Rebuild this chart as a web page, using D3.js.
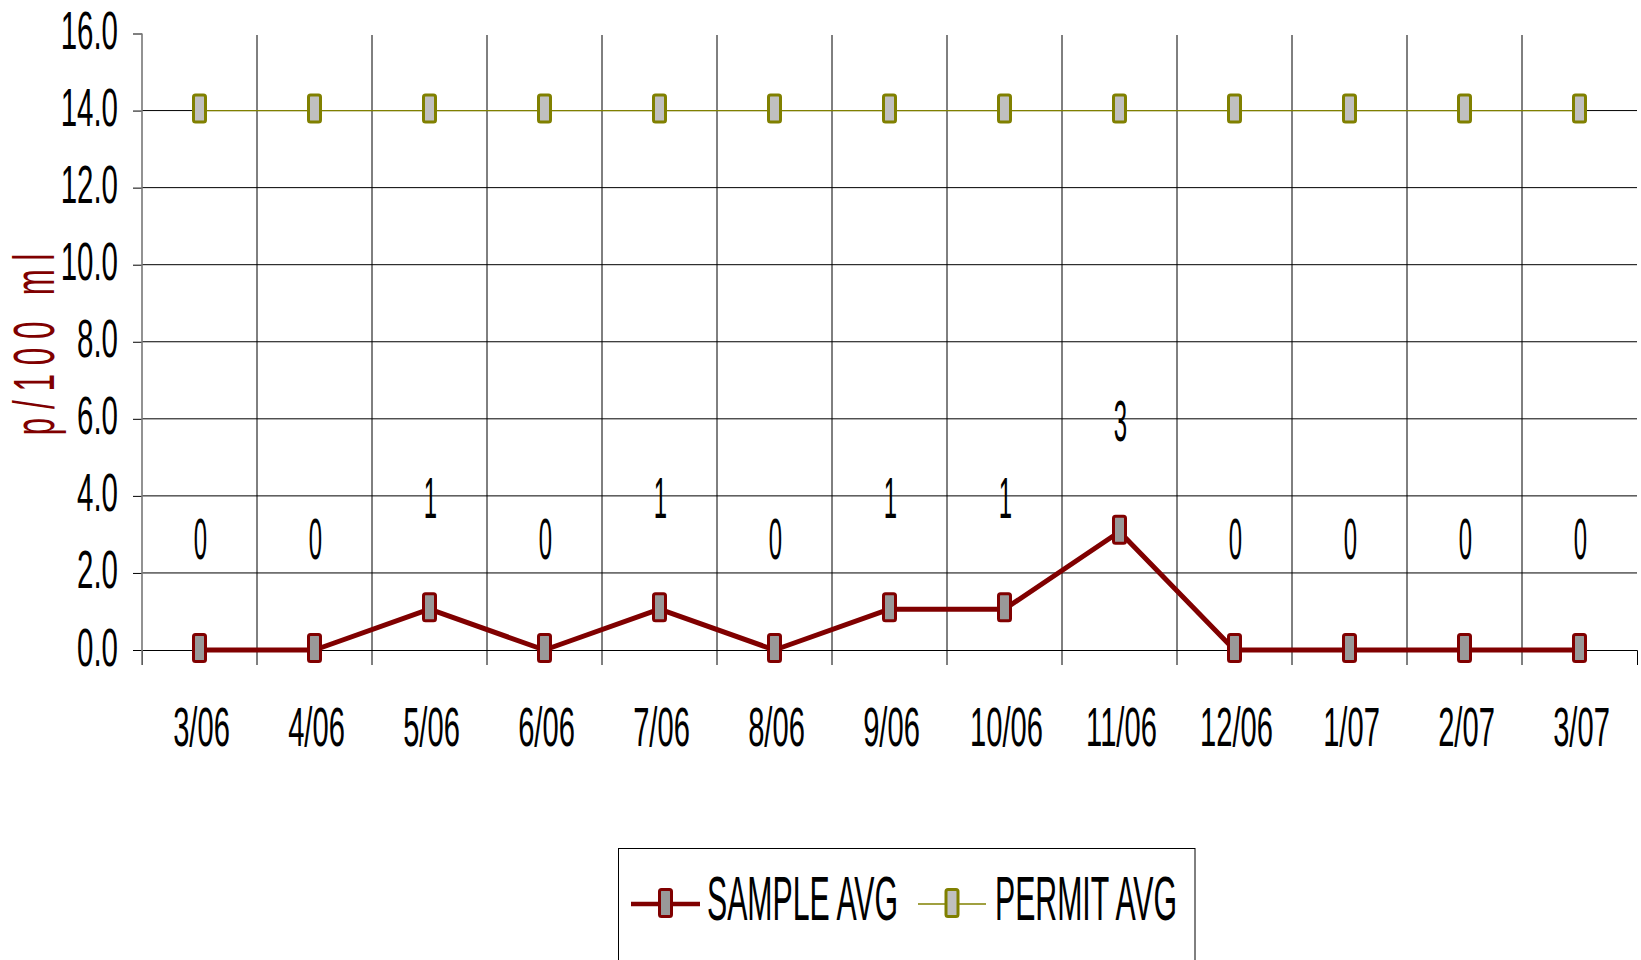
<!DOCTYPE html>
<html>
<head>
<meta charset="utf-8">
<script src="https://cdn.jsdelivr.net/npm/d3@7"></script>
<style>
  body { margin: 0; background: #fff; }
  svg { display: block; }
  text { font-family: "Liberation Sans", Arial, sans-serif; }
</style>
</head>
<body>
<svg id="chart" width="1641" height="960"></svg>
<script>
// ---- data ----
const months = ["3/06","4/06","5/06","6/06","7/06","8/06","9/06","10/06","11/06","12/06","1/07","2/07","3/07"];
const sampleAvg = [0, 0, 1.06, 0, 1.06, 0, 1.06, 1.06, 3.07, 0, 0, 0, 0];
const permitAvg = [14, 14, 14, 14, 14, 14, 14, 14, 14, 14, 14, 14, 14];
const yTicks = [0, 2, 4, 6, 8, 10, 12, 14, 16];
const seriesNames = ["SAMPLE AVG", "PERMIT AVG"];
const yTitle = "p/100 ml";

// ---- layout ----
const svg = d3.select("#chart");
svg.append("rect").attr("width", 1641).attr("height", 960).attr("fill", "#fff");

const X0 = 142, X1 = 1637, YTOP = 33.5, YBOT = 650;
const x = d3.scaleBand().domain(months).range([X0, X1]).padding(0);
const y = d3.scaleLinear().domain([0, 16]).range([YBOT, YTOP]);
const cx = m => x(m) + x.bandwidth() / 2;

const colSample = "#800000", colPermit = "#808000";

// horizontal gridlines
svg.append("g").selectAll("line")
  .data(yTicks.filter(t => t > 0 && t < 16)).join("line")
  .attr("x1", X0).attr("x2", X1)
  .attr("y1", d => y(d)).attr("y2", d => y(d))
  .attr("stroke", "#000").attr("stroke-width", 1);

// vertical gridlines at category boundaries
svg.append("g").selectAll("line")
  .data(months.slice(1)).join("line")
  .attr("x1", d => x(d)).attr("x2", d => x(d))
  .attr("y1", 35).attr("y2", 665)
  .attr("stroke", "#000").attr("stroke-width", 1);

// x axis
const xAxis = d3.axisBottom(x).tickSize(0).tickSizeOuter(15).tickPadding(0);
const gx = svg.append("g").attr("transform", `translate(0,${YBOT})`).call(xAxis);
gx.select(".domain").attr("stroke", "#000").attr("stroke-width", 1);
gx.selectAll(".tick text")
  .attr("y", null).attr("dy", null)
  .attr("text-anchor", "middle")
  .attr("font-size", 55)
  .attr("fill", "#000")
  .attr("transform", "translate(2,96) scale(0.53,1)");

// y axis
const yAxis = d3.axisLeft(y).tickValues(yTicks).tickSize(9).tickSizeOuter(0)
  .tickFormat(d3.format(".1f"));
const gy = svg.append("g").attr("transform", `translate(${X0},0)`).call(yAxis);
gy.select(".domain").remove();
gy.selectAll(".tick line").attr("stroke", "#000");
gy.selectAll(".tick text")
  .attr("x", null).attr("dy", null)
  .attr("text-anchor", "end")
  .attr("font-size", 53)
  .attr("fill", "#000")
  .attr("transform", "translate(-24,15) scale(0.556,1)");
svg.append("line")
  .attr("x1", X0).attr("x2", X0).attr("y1", YTOP).attr("y2", 665)
  .attr("stroke", "#777").attr("stroke-width", 1.6);

// y title
svg.append("text")
  .attr("transform", "translate(54,340) rotate(-90) scale(0.55,1)")
  .attr("text-anchor", "middle")
  .attr("font-size", 57)
  .attr("letter-spacing", 16)
  .attr("fill", colSample)
  .text(yTitle);

// lines
const line = d3.line().x(d => cx(d.m)).y(d => y(d.v));
const permitData = months.map((m, i) => ({ m, v: permitAvg[i] }));
const sampleData = months.map((m, i) => ({ m, v: sampleAvg[i] }));

svg.append("path").datum(permitData)
  .attr("d", line).attr("fill", "none")
  .attr("stroke", colPermit).attr("stroke-width", 1.3);
svg.append("path").datum(sampleData)
  .attr("d", line).attr("fill", "none")
  .attr("stroke", colSample).attr("stroke-width", 5)
  .attr("stroke-linejoin", "round");

// markers
function markers(data, stroke, fill) {
  svg.append("g").selectAll("rect").data(data).join("rect")
    .attr("x", d => cx(d.m) - 6).attr("y", d => y(d.v) - 2 - 13.5)
    .attr("width", 12).attr("height", 27)
    .attr("rx", 2)
    .attr("fill", fill).attr("stroke", stroke).attr("stroke-width", 3);
}
markers(permitData, colPermit, "#c0c0c0");
markers(sampleData, colSample, "#999999");

// data labels for sample
svg.append("g").selectAll("text").data(sampleData).join("text")
  .attr("transform", d => `translate(${cx(d.m) + 1},${y(d.v) - 91}) scale(0.42,1)`)
  .attr("text-anchor", "middle")
  .attr("font-size", 57)
  .attr("fill", "#000")
  .text(d => d3.format(".0f")(d.v));

// legend
const lg = svg.append("g");
lg.append("rect")
  .attr("x", 618.5).attr("y", 848.5).attr("width", 576.5).attr("height", 140)
  .attr("fill", "#fff").attr("stroke", "#000").attr("stroke-width", 1);
const legendItems = [
  { name: seriesNames[0], stroke: colSample, fill: "#999999", w: 4.5, lx1: 631, lx2: 700, tx: 707 },
  { name: seriesNames[1], stroke: colPermit, fill: "#c0c0c0", w: 1.3, lx1: 918, lx2: 986, tx: 995 }
];
legendItems.forEach(it => {
  lg.append("line").attr("x1", it.lx1).attr("x2", it.lx2).attr("y1", 904).attr("y2", 904)
    .attr("stroke", it.stroke).attr("stroke-width", it.w);
  const mx = (it.lx1 + it.lx2) / 2;
  lg.append("rect").attr("x", mx - 6).attr("y", 903 - 13.5).attr("width", 12).attr("height", 27)
    .attr("rx", 2).attr("fill", it.fill).attr("stroke", it.stroke).attr("stroke-width", 3);
  lg.append("text")
    .attr("transform", `translate(${it.tx},920) scale(0.48,1)`)
    .attr("font-size", 63).attr("fill", "#000")
    .text(it.name);
});
</script>
</body>
</html>
